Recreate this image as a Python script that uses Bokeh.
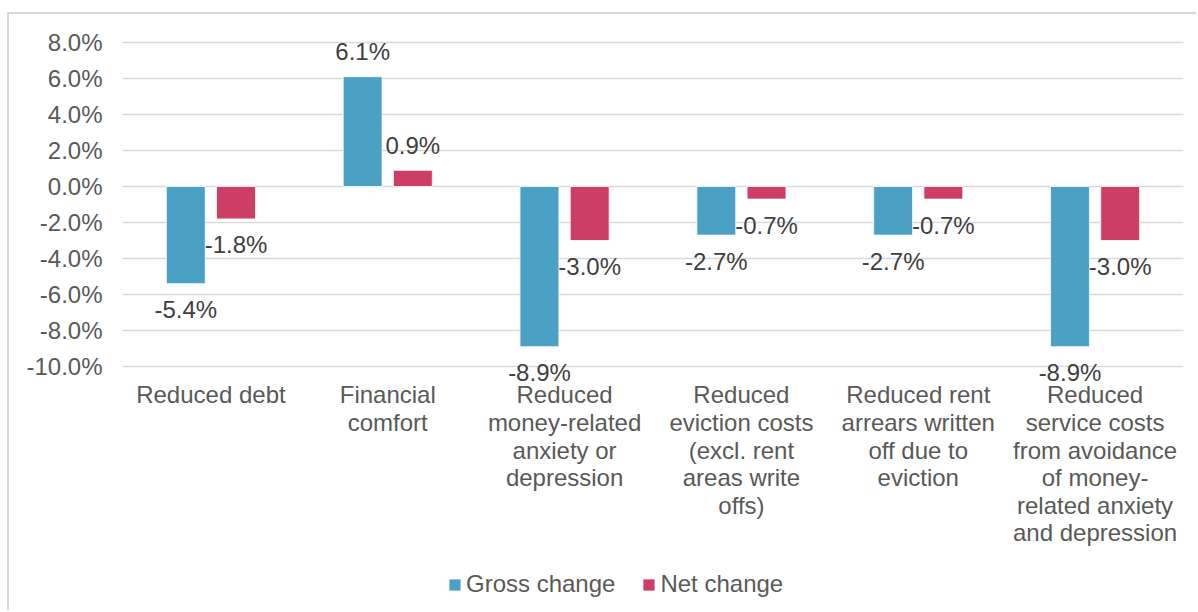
from bokeh.plotting import figure
from bokeh.models import (FactorRange, FixedTicker, PrintfTickFormatter, Legend, LegendItem,
                          LabelSet, ColumnDataSource)
from bokeh.transform import dodge
from bokeh.embed import file_html
from bokeh.resources import INLINE
from bokeh.core.properties import value

categories = [
    "Reduced debt",
    "Financial\ncomfort",
    "Reduced\nmoney-related\nanxiety or\ndepression",
    "Reduced\neviction costs\n(excl. rent\nareas write\noffs)",
    "Reduced rent\narrears written\noff due to\neviction",
    "Reduced\nservice costs\nfrom avoidance\nof money-\nrelated anxiety\nand depression",
]
gross = [-5.4, 6.1, -8.9, -2.7, -2.7, -8.9]
net = [-1.8, 0.9, -3.0, -0.7, -0.7, -3.0]
series_names = ["Gross change", "Net change"]
y_ticks = [-10, -8, -6, -4, -2, 0, 2, 4, 6, 8]

GROSS_COLOR = "#4AA1C3"
NET_COLOR = "#CC3E64"
FONT = "Liberation Sans"
LABEL_COLOR = "#595959"
DATA_COLOR = "#404040"

src = ColumnDataSource(dict(
    cat=categories,
    gross=gross,
    net=net,
    base=[y_ticks[0]] * len(categories),
    gross_lbl=[f"{v:.1f}%" for v in gross],
    net_lbl=[f"{v:.1f}%" for v in net],
    gross_off=[25 if v >= 0 else -26 for v in gross],
    net_off=[25 if v >= 0 else -26 for v in net],
))

# canvas sits at page offset (9, 14) behind a thin left/top border
p = figure(x_range=FactorRange(*categories, range_padding=0), y_range=(-23.667, 9.556),
           width=1189, height=598, output_backend="svg", toolbar_location=None,
           x_axis_location=None,
           min_border_left=113, min_border_right=15, min_border_top=0, min_border_bottom=0)
p.margin = (12, 0, 0, 7)
p.styles = {"border-top": "2px solid #d9d9d9", "border-left": "2px solid #d9d9d9"}
p.outline_line_color = None
p.background_fill_color = "white"
p.border_fill_color = "white"

off = 0.142
bw = 0.22
r1 = p.vbar(x=dodge("cat", -off, range=p.x_range), top="gross", bottom=0, width=bw, source=src,
            fill_color=GROSS_COLOR, line_color="white", line_width=0.8)
r2 = p.vbar(x=dodge("cat", off, range=p.x_range), top="net", bottom=0, width=bw, source=src,
            fill_color=NET_COLOR, line_color="white", line_width=0.8)

for fld, o in (("gross", -off), ("net", off)):
    ls = LabelSet(x=dodge("cat", o, range=p.x_range), y=fld, text=fld + "_lbl", y_offset=fld + "_off",
                  source=src, text_align="center", text_baseline="middle",
                  text_font=value(FONT), text_font_size="24px", text_color=DATA_COLOR)
    p.add_layout(ls)

# category labels under the -10% line
p.text(x="cat", y="base", text="cat", source=src, y_offset=15,
       text_align="center", text_baseline="top", text_font=value(FONT),
       text_font_size="24px", text_color=LABEL_COLOR, text_line_height=1.02)

# grid
p.xgrid.visible = False
p.ygrid.ticker = FixedTicker(ticks=y_ticks)
p.ygrid.grid_line_color = "#d9d9d9"
p.ygrid.grid_line_width = 1.5

# y axis
p.yaxis.ticker = FixedTicker(ticks=y_ticks)
p.yaxis.formatter = PrintfTickFormatter(format="%.1f%%")
p.yaxis.axis_line_color = None
p.yaxis.major_tick_line_color = None
p.yaxis.minor_tick_line_color = None
p.yaxis.major_tick_out = 0
p.yaxis.major_tick_in = 0
p.yaxis.major_label_standoff = 20
p.yaxis.major_label_text_font = FONT
p.yaxis.major_label_text_font_size = "24px"
p.yaxis.major_label_text_color = LABEL_COLOR

legend = Legend(items=[LegendItem(label=series_names[0], renderers=[r1]),
                       LegendItem(label=series_names[1], renderers=[r2])],
                orientation="horizontal", location=(325, 14),
                border_line_color=None, background_fill_alpha=0,
                glyph_width=15, glyph_height=15, label_standoff=4, spacing=26,
                padding=0, margin=0,
                label_text_font=FONT, label_text_font_size="24px", label_text_color=LABEL_COLOR)
p.add_layout(legend, "center")

open("out.html", "w").write(file_html(p, INLINE))
